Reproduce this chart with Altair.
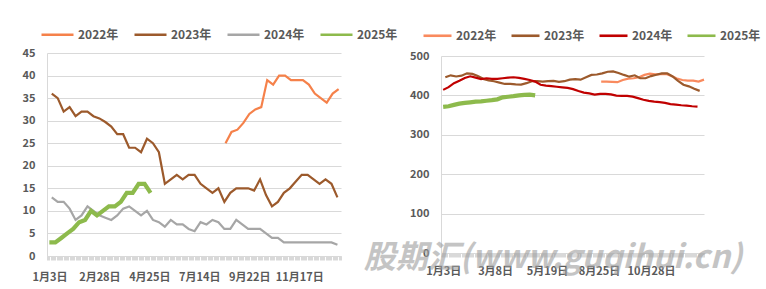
import json
import altair as alt
import pandas as pd

YEARS = ["2022年", "2023年", "2024年", "2025年"]

# ---------------- left panel ----------------
L_LABELS = ["1月3日", "2月28日", "4月25日", "7月14日", "9月22日", "11月17日"]
L_2022 = [25, 27.5, 28, 29.5, 31.5, 32.5, 33, 39, 38, 40, 40, 39, 39, 39, 38, 36, 35, 34, 36, 37]
L_2023 = [36, 35, 32, 33, 31, 32, 32, 31, 30.5, 29.7, 28.7, 27, 27, 24, 24, 23, 26, 25, 23, 16,
          17, 18, 17, 18, 18, 16, 15, 14, 15, 12, 14, 15, 15, 15, 14.5, 17, 13.5, 11, 12, 14,
          15, 16.5, 18, 18, 17, 16, 17, 16, 13]
L_2024 = [13, 12, 12, 10.5, 8, 9, 11, 10, 9, 8.5, 8, 9, 10.5, 11, 10, 9, 10, 8, 7.5, 6.5,
          8, 7, 7, 6, 5.5, 7.5, 7, 8, 7.5, 6, 6, 8, 7, 6, 6, 6, 5, 4, 4, 3,
          3, 3, 3, 3, 3, 3, 3, 3, 2.5]
L_2025 = [3, 3, 4, 5, 6, 7.5, 8, 10, 9, 10, 11, 11, 12, 14, 14, 16, 16, 14]
L_START = {"2022年": 148, "2023年": 2, "2024年": 2, "2025年": 0}   # first trading-day index
L_COLORS = ["#F5814A", "#9C5A2C", "#A6A6A6", "#8DBA4C"]

# ---------------- right panel ----------------
R_LABELS = ["1月3日", "3月8日", "5月19日", "8月25日", "10月28日"]
R_2022 = [435, 435, 434.5, 433.5, 439, 442.5, 443.5, 446, 452, 455, 453.5, 454, 454.5, 449, 443,
          439, 437.5, 437.5, 435, 440]
R_2023 = [446, 451, 448, 450, 456, 454.5, 449, 442, 438, 436, 432.5, 429, 429, 428, 427.5, 431,
          436, 436, 435, 436, 437, 434.5, 436, 440, 441.5, 440, 446, 452, 453, 456, 460, 461,
          457, 452, 447.5, 451, 443.5, 443.5, 449, 452.5, 456, 456, 448, 437, 427, 423, 417, 411.5]
R_2024 = [414, 421, 431, 437, 444, 448.5, 445, 441.5, 443.5, 442, 442, 443.5, 445, 446, 444.5, 442,
          439, 435, 427, 425, 423.5, 422, 420.5, 419, 416, 411, 407, 405, 402, 404, 404, 402.5,
          399.5, 398.6, 398.6, 397, 393, 389, 386, 384, 383, 381, 378, 376.5, 375, 374, 372.5, 371.5]
R_2025 = [371, 372.5, 376, 379, 381, 382.5, 384, 385, 386.5, 388, 390, 395, 396.5, 398, 400,
          401.5, 402, 400]
R_START = {"2022年": 146, "2023年": 2, "2024年": 0, "2025年": 0}
R_COLORS = ["#F98A5E", "#9C5A2C", "#C00000", "#8DBA4C"]

WATERMARK = "股期汇(www.guqihui.cn)"

THIN, THICK = 2.2, 4.2
FONT = "Noto Sans CJK SC"
GRID = "#d9d9d9"
TXT = "#595959"


def make_df(series, starts):
    rows = []
    for yr in YEARS:
        for i, v in enumerate(series[yr]):
            rows.append({"year": yr, "day": starts[yr] + 5 * i, "value": v,
                         "w": THICK if yr == YEARS[-1] else THIN})
    return pd.DataFrame(rows)


def label_expr(labels, every):
    arr = json.dumps(labels, ensure_ascii=False)
    n = len(labels)
    return (f"(datum.value >= 0 && datum.value % {every} == 0 && datum.value / {every} < {n})"
            f" ? {arr}[datum.value / {every}] : ''")


def panel(df, colors, xdom, every, labels, ymax, ystep, w, h, lx, ly, sym_len, col_pad, xpad):
    leg = alt.Legend(orient="none", legendX=lx, legendY=ly, direction="horizontal", title=None,
                     symbolType="stroke", symbolSize=sym_len ** 2, symbolStrokeWidth=2.6,
                     labelFont=FONT, labelFontSize=12, labelFontWeight="bold", labelColor=TXT,
                     labelOffset=3, columnPadding=col_pad, padding=0)
    x = alt.X("day:Q", scale=alt.Scale(domain=xdom, nice=False, zero=False),
              axis=alt.Axis(values=list(range(xdom[0], xdom[1] + 1)),
                            labelExpr=label_expr(labels, every), labelOverlap=False,
                            grid=False, ticks=True, tickSize=4, tickColor=GRID, tickWidth=1,
                            domainColor=GRID, labelFont=FONT, labelFontSize=11,
                            labelFontWeight="bold", labelColor=TXT, labelPadding=xpad,
                            labelBound=False, labelFlush=False, title=None))
    y = alt.Y("value:Q", scale=alt.Scale(domain=[0, ymax], nice=False, zero=True),
              axis=alt.Axis(values=list(range(0, ymax + 1, ystep)), grid=True, gridColor=GRID,
                            gridWidth=1, ticks=False, domain=True, domainColor=GRID,
                            labelFont=FONT, labelFontSize=11, labelFontWeight="bold",
                            labelColor=TXT, labelPadding=12, title=None))
    return alt.Chart(df).mark_line().encode(
        x=x, y=y,
        color=alt.Color("year:N", scale=alt.Scale(domain=YEARS, range=colors), legend=leg),
        strokeWidth=alt.StrokeWidth("w:Q", scale=None, legend=None),
        order=alt.Order("day:Q"),
    ).properties(width=w, height=h)


left_df = make_df({"2022年": L_2022, "2023年": L_2023, "2024年": L_2024, "2025年": L_2025}, L_START)
right_df = make_df({"2022年": R_2022, "2023年": R_2023, "2024年": R_2024, "2025年": R_2025}, R_START)

left = panel(left_df, L_COLORS, [-2, 245], 42, L_LABELS, 45, 5, 294, 203, -7, -36, 32, 10, 11)
right_lines = panel(right_df, R_COLORS, [-2, 241], 48, R_LABELS, 500, 100, 263, 197, -19, -36, 28, 9, 8)

wm = alt.Chart(pd.DataFrame({"t": [WATERMARK]})).mark_text(
    font=FONT, fontSize=32, fontWeight="bold", fontStyle="italic", color="#9e9e9e", opacity=0.6,
    align="center", baseline="middle"
).encode(text="t:N", x=alt.value(112), y=alt.value(202))

right = alt.layer(right_lines, wm)

chart = alt.hconcat(left, right, spacing=100, bounds="flush", center=True).resolve_scale(
    color="independent"
).configure_view(stroke=None).properties(
    padding={"left": 22, "top": 17, "right": 5, "bottom": 5}
)

chart.save("out.html", embed_options={"renderer": "svg", "actions": False})
